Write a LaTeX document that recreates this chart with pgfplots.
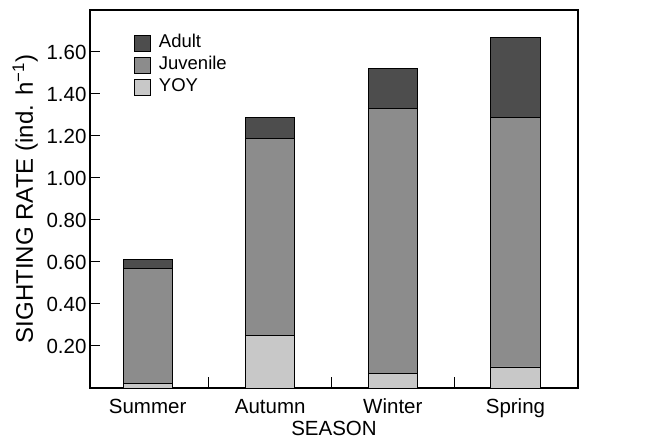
\documentclass[border=0pt]{standalone}
\usepackage{pgfplots}
\pgfplotsset{compat=1.18}
\usepackage{fontspec}
\setmainfont{Liberation Sans}
\definecolor{adult}{HTML}{4D4D4D}
\definecolor{juv}{HTML}{8C8C8C}
\definecolor{yoy}{HTML}{C8C8C8}
\pgfplotsset{sqleg/.style={legend image code/.code={\draw[##1,draw=black,line width=0.8bp] (0bp,-8bp) rectangle (16bp,8bp);}}}
\begin{document}
\begin{tikzpicture}[font=\fontsize{20.5bp}{24bp}\selectfont]
\begin{axis}[name=ax, scale only axis, width=488bp, height=378bp,
  xmin=-0.47, xmax=3.51, ymin=0, ymax=1.8,
  ybar stacked, bar width=0.4,
  axis line style={line width=1.2bp},
  tick align=inside, xtick pos=bottom, ytick pos=left,
  major tick length=10bp, minor tick length=11bp,
  every tick/.style={black, line width=1bp},
  xtick={0,1,2,3}, xticklabels={Summer,Autumn,Winter,Spring},
  major x tick style={draw=none},
  minor xtick={0.5,1.5,2.5},
  xticklabel style={anchor=base, yshift=-25bp},
  ytick={0.2,0.4,0.6,0.8,1.0,1.2,1.4,1.6},
  yticklabel style={/pgf/number format/.cd,fixed,fixed zerofill,precision=2,assume math mode=true},
  extra y ticks={0,1.8}, extra y tick labels={},
  xlabel={SEASON},
  xlabel style={at={(axis description cs:0.5,0)}, anchor=base, yshift=-47bp},
  ylabel={SIGHTING RATE (ind. h\textsuperscript{\char"2212 1})},
  ylabel style={at={([xshift=-57bp]axis description cs:0,0.5)}, anchor=base, font=\fontsize{24bp}{28bp}\selectfont},
  reverse legend,
  legend cell align=left,
  legend style={at={(axis description cs:0.09,0.942)}, anchor=north west, draw=none, fill=none, inner sep=0pt,
    font=\fontsize{18.5bp}{21bp}\selectfont, row sep=0bp,
    nodes={inner sep=1bp, text height=14bp, text depth=6bp},
    /tikz/every odd column/.append style={column sep=7bp}},
]
\addplot[fill=yoy, draw=black, line width=0.9bp, sqleg] coordinates {(0,0.02) (1,0.25) (2,0.07) (3,0.10)};
\addlegendentry{YOY}
\addplot[fill=juv, draw=black, line width=0.9bp, sqleg] coordinates {(0,0.55) (1,0.94) (2,1.26) (3,1.19)};
\addlegendentry{Juvenile}
\addplot[fill=adult, draw=black, line width=0.9bp, sqleg] coordinates {(0,0.04) (1,0.10) (2,0.19) (3,0.38)};
\addlegendentry{Adult}
\end{axis}
\path ([shift={(-90bp,-55bp)}]ax.south west) ([shift={(82bp,10bp)}]ax.north east);
\end{tikzpicture}
\end{document}
